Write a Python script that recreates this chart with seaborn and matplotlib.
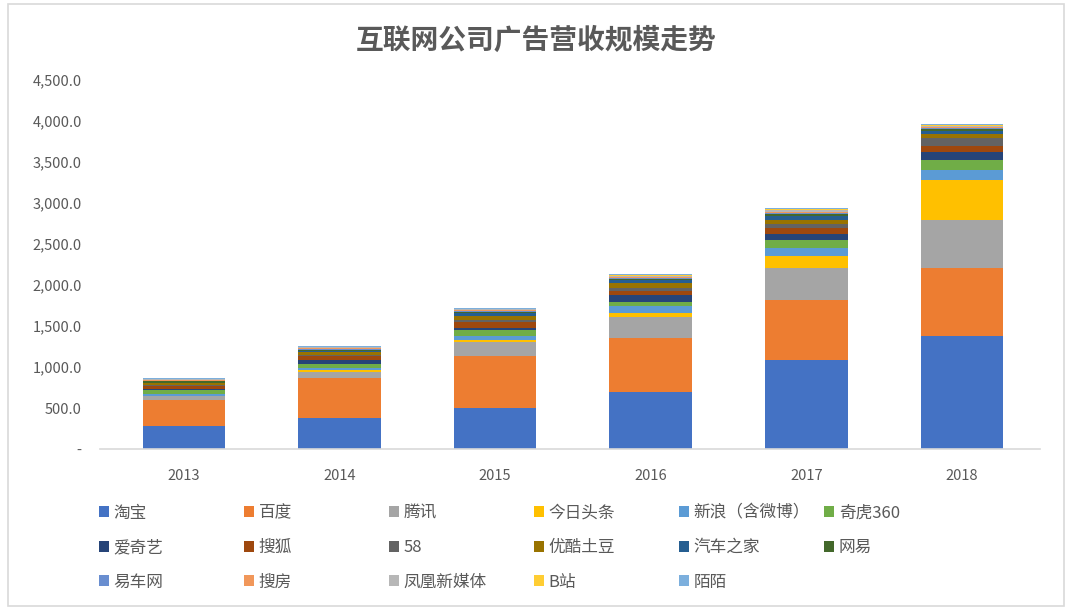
import matplotlib
matplotlib.use("Agg")
import matplotlib.pyplot as plt
from matplotlib.patches import Patch, Rectangle
import seaborn as sns
import numpy as np

# Data
years = ["2013", "2014", "2015", "2016", "2017", "2018"]
companies = ["淘宝", "百度", "腾讯", "今日头条", "新浪（含微博）", "奇虎360",
             "爱奇艺", "搜狐", "58", "优酷土豆", "汽车之家", "网易",
             "易车网", "搜房", "凤凰新媒体", "B站", "陌陌"]
taobao = [280, 378, 500, 695, 1085, 1378]
baidu = [318, 488, 634, 659, 732, 829]
tencent = [48, 73, 171, 259, 390, 586]
toutiao = [3, 24, 24, 49, 146, 487]
sina = [25, 25, 49, 82, 98, 122]
qihoo = [49, 49, 73, 49, 98, 122]
iqiyi = [15, 48, 25, 81, 73, 98]
sohu = [35, 49, 73, 49, 73, 73]
wuba = [5, 10, 24, 40, 49, 98]
youku = [24, 39, 49, 57, 49, 48]
autohome = [5, 10, 32, 41, 49, 40]
netease = [17, 14, 17, 16, 25, 18]
yiche = [5, 8, 8, 10, 12, 12]
soufang = [15, 15, 15, 15, 18, 20]
ifeng = [8, 10, 10, 12, 15, 15]
bilibili = [1, 2, 3, 5, 10, 5]
momo = [12, 14, 13, 15, 18, 13]
series = [taobao, baidu, tencent, toutiao, sina, qihoo, iqiyi, sohu, wuba,
          youku, autohome, netease, yiche, soufang, ifeng, bilibili, momo]
colors = ["#4472C4", "#ED7D31", "#A5A5A5", "#FFC000", "#5B9BD5", "#70AD47",
          "#264478", "#9E480E", "#636363", "#997300", "#255E91", "#43682B",
          "#698ED0", "#F1975A", "#B7B7B7", "#FFCD33", "#7CAFDD"]

sns.set_style("white")
plt.rcParams["font.family"] = ["Noto Sans CJK SC", "DejaVu Sans"]
text_color = "#595959"

fig = plt.figure(figsize=(10.72, 6.16), dpi=100)
ax = fig.add_axes([0.093, 0.271, 0.877, 0.599])

bottom = np.zeros(len(years))
for vals, col in zip(series, colors):
    sns.barplot(x=years, y=vals, bottom=bottom, color=col, width=0.53,
                errorbar=None, saturation=1, linewidth=0, edgecolor="none", ax=ax)
    bottom = bottom + np.array(vals)

ax.set_ylim(0, 4500)
ax.set_xlim(-0.54, 5.5)
yt = np.arange(0, 4501, 500)
ax.set_yticks(yt)
ax.set_yticklabels(["-"] + [f"{v:,.1f}" for v in yt[1:]])
ax.tick_params(axis="both", length=0, colors=text_color, labelsize=10.5)
ax.tick_params(axis="x", pad=14)
ax.tick_params(axis="y", pad=13)
for s in ["top", "right", "left"]:
    ax.spines[s].set_visible(False)
ax.spines["bottom"].set_color("#D9D9D9")
ax.spines["bottom"].set_linewidth(1.2)
ax.set_xlabel("")
ax.set_ylabel("")

fig.text(0.5, 0.933, "互联网公司广告营收规模走势", ha="center", va="center",
         fontsize=20, fontweight="bold", color=text_color)

# Legend: six columns, filled row by row
handles = [Patch(facecolor=c, edgecolor="none") for c in colors]
col_x = [105, 250, 395, 540, 685, 830]
for c, xp in enumerate(col_x):
    idx = list(range(c, len(companies), 6))
    lg = fig.legend([handles[i] for i in idx], [companies[i] for i in idx],
                    loc="upper left", bbox_to_anchor=(xp / 1072 - 0.012, 1 - 498 / 616),
                    frameon=False, fontsize=12, handlelength=0.6, handleheight=0.6,
                    handletextpad=0.3, labelspacing=1.05, borderaxespad=0)
    for t in lg.get_texts():
        t.set_color(text_color)

fig.patches.append(Rectangle((8 / 1072, 10 / 616), 1056 / 1072, 602 / 616,
                             transform=fig.transFigure, fill=False,
                             edgecolor="#D9D9D9", linewidth=1.2))

fig.savefig("out.png", dpi=100)
